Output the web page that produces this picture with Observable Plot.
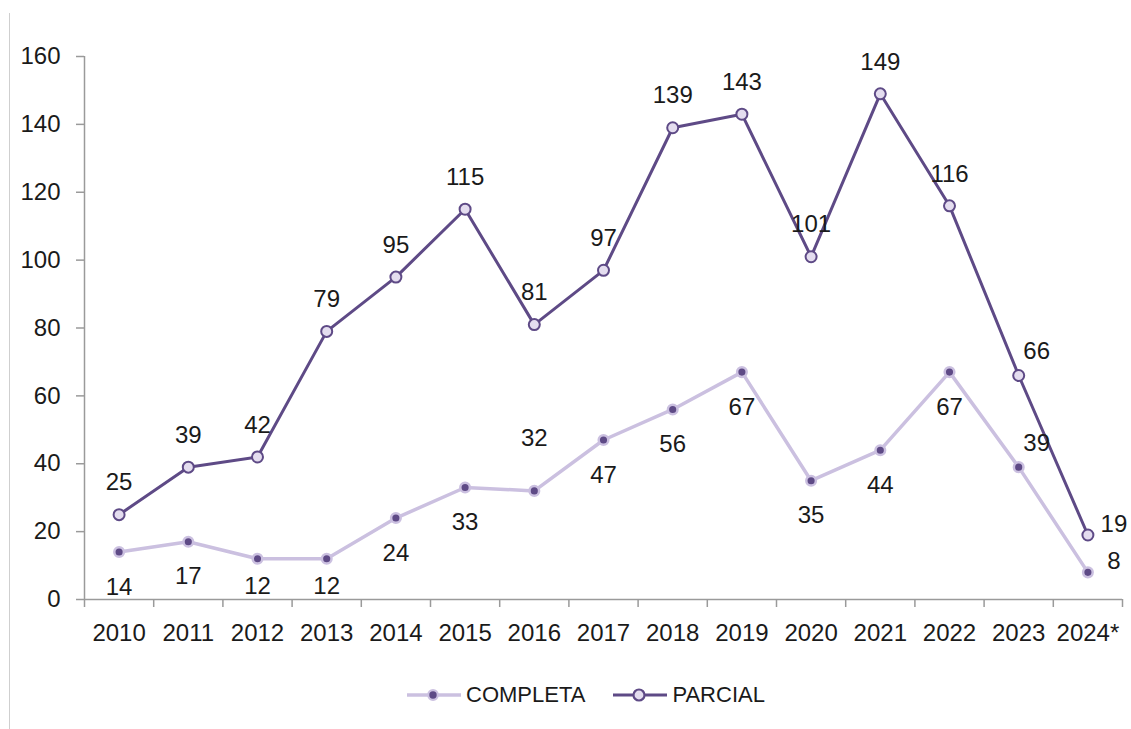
<!DOCTYPE html>
<html>
<head>
<meta charset="utf-8">
<script src="https://cdn.jsdelivr.net/npm/d3@7"></script>
<script src="https://cdn.jsdelivr.net/npm/@observablehq/plot@0.6"></script>
<style>
  html, body { margin: 0; padding: 0; background: #fff; }
  #wrap { position: relative; width: 1131px; height: 729px; background: #fff; overflow: hidden; font-family: "Liberation Sans", Arial, sans-serif; }
  #border { position: absolute; left: 9px; top: 13px; width: 0; height: 716px; border-left: 1.5px solid #cfcfcf; }
  #chart { position: absolute; left: 0; top: 0; }
  #legend { position: absolute; left: 407px; top: 682px; display: flex; align-items: center; font-size: 22px; color: #1a1a1a; }
  .item { display: flex; align-items: center; margin-right: 28px; }
  .item svg { margin-right: 5px; }
</style>
</head>
<body>
<div id="wrap">
  <div id="border"></div>
  <div id="chart"></div>
  <div id="legend"></div>
</div>
<script>
const years = ["2010","2011","2012","2013","2014","2015","2016","2017","2018","2019","2020","2021","2022","2023","2024*"];
const completa = [14,17,12,12,24,33,32,47,56,67,35,44,67,39,8];
const parcial = [25,39,42,79,95,115,81,97,139,143,101,149,116,66,19];
const completaLabelPos = ["below","below","belowTight","belowTight","below","below","farAbove","below","below","below","below","below","below","aboveRight","right"];
const parcialLabelPos = ["above","above","above","above","above","above","above","above","above","above","above","above","above","aboveRight","right"];
const yTicks = [0,20,40,60,80,100,120,140,160];

const dark = "#5e4a86";
const light = "#cbc0e0";
const lightFill = "#e4ddef";
const axisGray = "#9a9a9a";
const textColor = "#1a1a1a";
const fs = 24;

const data = years.map((year, i) => ({
  i, year,
  completa: completa[i], parcial: parcial[i],
  cPos: completaLabelPos[i], pPos: parcialLabelPos[i]
}));

const offsets = {
  above: [0, -32],
  below: [0, 35],
  belowTight: [0, 28],
  farAbove: [0, -53],
  aboveRight: [18, -24],
  right: [26, -11]
};

const labelMarks = [];
for (const [key, [dx, dy]] of Object.entries(offsets)) {
  labelMarks.push(Plot.text(data.filter(d => d.cPos === key), {x: "i", y: "completa", text: d => String(d.completa), dx, dy, fill: textColor, fontSize: fs}));
  labelMarks.push(Plot.text(data.filter(d => d.pPos === key), {x: "i", y: "parcial", text: d => String(d.parcial), dx, dy, fill: textColor, fontSize: fs}));
}

const chart = Plot.plot({
  width: 1131,
  height: 650,
  marginTop: 56,
  marginBottom: 51,
  marginLeft: 84,
  marginRight: 9,
  x: {type: "linear", domain: [-0.5, years.length - 0.5]},
  y: {domain: [0, 160]},
  style: {fontFamily: "'Liberation Sans', Arial, sans-serif", fontSize: fs + "px", background: "transparent", color: textColor},
  marks: [
    Plot.axisY({ticks: yTicks, tickSize: 8, tickPadding: 16, stroke: axisGray, fill: textColor, label: null, fontSize: fs, strokeWidth: 1.5}),
    Plot.axisX({ticks: d3.range(-0.5, years.length, 1), tickSize: 8, tickFormat: () => "", stroke: axisGray, label: null, strokeWidth: 1.5}),
    Plot.axisX({ticks: d3.range(0, years.length), tickSize: 0, tickPadding: 24, tickFormat: i => years[i], fill: textColor, label: null, fontSize: fs}),
    Plot.ruleY([0], {stroke: axisGray, strokeWidth: 1.5}),
    Plot.ruleX([-0.5], {stroke: axisGray, strokeWidth: 1.5}),
    Plot.line(data, {x: "i", y: "completa", stroke: light, strokeWidth: 3.5}),
    Plot.line(data, {x: "i", y: "parcial", stroke: dark, strokeWidth: 3}),
    Plot.dot(data, {x: "i", y: "completa", r: 4.8, fill: dark, stroke: light, strokeWidth: 2.5}),
    Plot.dot(data, {x: "i", y: "parcial", r: 5.5, fill: lightFill, stroke: dark, strokeWidth: 2}),
    ...labelMarks
  ]
});
document.getElementById("chart").appendChild(chart);

const legendItems = [
  {name: "COMPLETA", line: light, fill: dark, stroke: light, r: 4.8, lw: 3.5},
  {name: "PARCIAL", line: dark, fill: lightFill, stroke: dark, r: 5.5, lw: 3}
];
const legend = document.getElementById("legend");
for (const it of legendItems) {
  const div = document.createElement("div");
  div.className = "item";
  div.innerHTML = `<svg width="54" height="20"><line x1="0" y1="10" x2="54" y2="10" stroke="${it.line}" stroke-width="${it.lw}"/><circle cx="26" cy="10" r="${it.r}" fill="${it.fill}" stroke="${it.stroke}" stroke-width="2.2"/></svg><span>${it.name}</span>`;
  legend.appendChild(div);
}
</script>
</body>
</html>
